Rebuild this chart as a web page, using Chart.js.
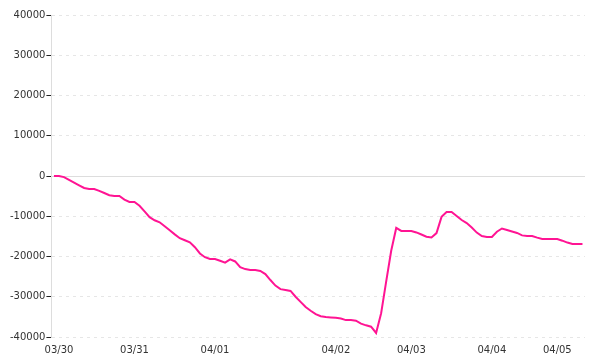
<!DOCTYPE html>
<html>
<head>
<meta charset="utf-8">
<script src="https://cdn.jsdelivr.net/npm/chart.js@4/dist/chart.umd.min.js"></script>
<style>
  html, body { margin: 0; padding: 0; background: #fff; }
  #wrap { width: 600px; height: 360px; }
</style>
</head>
<body>
<div id="wrap"><canvas id="grafico"></canvas></div>
<script>
// valores (una muestra cada ~5 px)
const valores = [
  0, 0, -270, -950, -1630, -2300, -2980, -3230, -3230, -3690,
  -4230, -4780, -4970, -4970, -5880, -6460, -6460, -7390, -8800, -10230,
  -11000, -11510, -12500, -13500, -14500, -15450, -15970, -16490, -17700, -19240,
  -20170, -20620, -20620, -21060, -21510, -20720, -21230, -22660, -23130, -23350,
  -23350, -23580, -24380, -25850, -27220, -28110, -28300, -28560, -29990, -31270,
  -32550, -33480, -34330, -34830, -35050, -35140, -35230, -35410, -35800, -35800,
  -35960, -36690, -37100, -37450, -39000, -34090, -26260, -18580, -12900, -13650,
  -13650, -13650, -14020, -14540, -15080, -15290, -14190, -10160, -8950, -8950,
  -9950, -10940, -11690, -12800, -14060, -14920, -15150, -15150, -13840, -13050,
  -13420, -13780, -14150, -14750, -14900, -14900, -15310, -15650, -15650, -15650,
  -15650, -16070, -16540, -16900, -16900, -16900
];

// etiquetas de dia y la muestra donde empieza cada una
const dias = ["03/30", "03/31", "04/01", "04/02", "04/03", "04/04", "04/05"];
const inicioDia = [1, 16, 32, 56, 71, 87, 100];

const yTicks = [-40000, -30000, -20000, -10000, 0, 10000, 20000, 30000, 40000];

const labels = valores.map((v, i) => {
  const k = inicioDia.indexOf(i);
  return k >= 0 ? dias[k] : "";
});

// linea del cero, solida
const lineaCero = {
  id: "lineaCero",
  beforeDatasetsDraw(chart) {
    const { ctx, chartArea, scales } = chart;
    const y = Math.round(scales.y.getPixelForValue(0)) + 0.5;
    ctx.save();
    ctx.strokeStyle = "#dddddd";
    ctx.lineWidth = 1;
    ctx.beginPath();
    ctx.moveTo(chartArea.left, y);
    ctx.lineTo(chartArea.right, y);
    ctx.stroke();
    ctx.restore();
  }
};

Chart.defaults.font.family = "'DejaVu Sans', sans-serif";
Chart.defaults.font.size = 10;
Chart.defaults.color = "#333";

new Chart(document.getElementById("grafico"), {
  type: "line",
  data: {
    labels,
    datasets: [{
      data: valores,
      borderColor: "#ff1493",
      borderWidth: 2,
      pointRadius: 0,
      tension: 0,
      fill: false
    }]
  },
  options: {
    responsive: true,
    maintainAspectRatio: false,
    animation: false,
    layout: { padding: { left: 9, right: 15, top: 15, bottom: 3 } },
    plugins: { legend: { display: false }, tooltip: { enabled: false } },
    scales: {
      x: {
        offset: true,
        grid: { display: false, drawTicks: false },
        border: { display: false },
        afterFit: s => { s.height = 20; },
        ticks: {
          autoSkip: false,
          maxRotation: 0,
          padding: 7,
          callback: function(val, i) {
            const l = this.getLabelForValue(val);
            return l === "" ? null : l;
          }
        }
      },
      y: {
        min: -40000,
        max: 40000,
        afterBuildTicks: axis => { axis.ticks = yTicks.map(v => ({ value: v })); },
        grid: {
          color: "#e6e6e6",
          tickColor: "#222",
          tickLength: 5
        },
        border: { color: "#dddddd", dash: [3, 4] },
        ticks: {
          padding: 1,
          callback: v => String(v)
        }
      }
    }
  },
  plugins: [lineaCero]
});
</script>
</body>
</html>
